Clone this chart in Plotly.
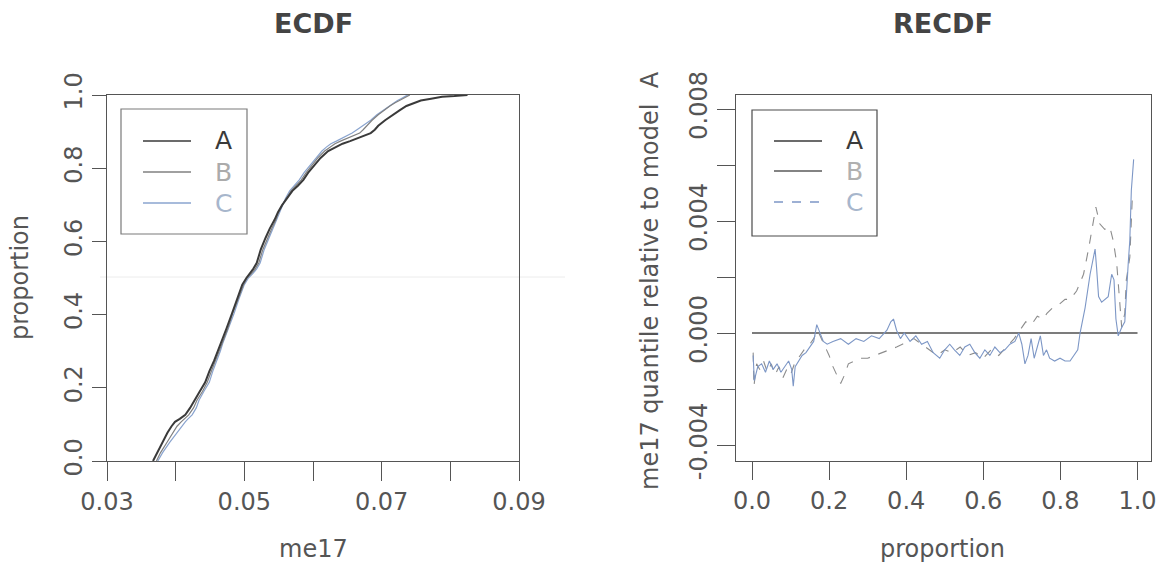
import plotly.graph_objects as go

W, H = 1165, 567

# ---- ECDF of me17 for three models (shared proportion levels) ----
ecdf_prop = [0.000, 0.023, 0.050, 0.077, 0.095, 0.107, 0.115, 0.126, 0.145, 0.166,
             0.190, 0.215, 0.245, 0.274, 0.300, 0.324, 0.362, 0.403, 0.442, 0.482,
             0.500, 0.511, 0.525, 0.541, 0.578, 0.610, 0.635, 0.659, 0.680, 0.699,
             0.718, 0.738, 0.752, 0.768, 0.788, 0.807, 0.828, 0.847, 0.857, 0.867,
             0.874, 0.882, 0.889, 0.896, 0.905, 0.916, 0.931, 0.946, 0.958, 0.970,
             0.978, 0.985, 0.990, 0.995, 0.997, 1.000]
me17_A = [0.0367, 0.0373, 0.0381, 0.0388, 0.0394, 0.0399, 0.0406, 0.0414, 0.0421, 0.0427,
          0.0435, 0.0443, 0.0449, 0.0456, 0.0461, 0.0466, 0.0474, 0.0482, 0.0489, 0.0497,
          0.0503, 0.0508, 0.0513, 0.0518, 0.0524, 0.0531, 0.0537, 0.0544, 0.0549, 0.0555,
          0.0562, 0.0570, 0.0578, 0.0586, 0.0593, 0.0601, 0.0611, 0.0622, 0.0632, 0.0643,
          0.0654, 0.0664, 0.0674, 0.0684, 0.0690, 0.0695, 0.0705, 0.0716, 0.0726, 0.0736,
          0.0747, 0.0757, 0.0772, 0.0788, 0.0806, 0.0825]
me17_B = [0.0372, 0.0378, 0.0387, 0.0396, 0.0402, 0.0408, 0.0413, 0.0419, 0.0426, 0.0431,
          0.0439, 0.0446, 0.0452, 0.0458, 0.0463, 0.0468, 0.0476, 0.0483, 0.0491, 0.0499,
          0.0504, 0.0510, 0.0516, 0.0521, 0.0527, 0.0534, 0.0540, 0.0546, 0.0550, 0.0555,
          0.0561, 0.0568, 0.0575, 0.0583, 0.0590, 0.0598, 0.0607, 0.0617, 0.0624, 0.0632,
          0.0640, 0.0650, 0.0659, 0.0668, 0.0673, 0.0678, 0.0686, 0.0695, 0.0703, 0.0712,
          0.0719, 0.0726, 0.0731, 0.0735, 0.0738, 0.0741]
me17_C = [0.0374, 0.0381, 0.0391, 0.0402, 0.0408, 0.0414, 0.0418, 0.0424, 0.0430, 0.0434,
          0.0441, 0.0449, 0.0454, 0.0460, 0.0465, 0.0469, 0.0477, 0.0485, 0.0492, 0.0500,
          0.0506, 0.0512, 0.0518, 0.0523, 0.0529, 0.0536, 0.0541, 0.0547, 0.0551, 0.0555,
          0.0560, 0.0566, 0.0572, 0.0580, 0.0587, 0.0595, 0.0604, 0.0613, 0.0619, 0.0626,
          0.0634, 0.0643, 0.0650, 0.0657, 0.0664, 0.0673, 0.0684, 0.0693, 0.0702, 0.0710,
          0.0717, 0.0723, 0.0728, 0.0732, 0.0735, 0.0738]

# ---- RECDF: quantile difference relative to model A ----
rec_A_p = [0.0, 1.0]
rec_A_d = [0.0, 0.0]
rec_B_p = [0.003, 0.005, 0.012, 0.020, 0.030, 0.040, 0.050, 0.060, 0.070, 0.080,
           0.090, 0.100, 0.110, 0.120, 0.130, 0.140, 0.150, 0.160, 0.170, 0.180,
           0.190, 0.200, 0.210, 0.220, 0.230, 0.240, 0.250, 0.265, 0.280, 0.300,
           0.320, 0.340, 0.360, 0.375, 0.390, 0.405, 0.420, 0.440, 0.460, 0.480,
           0.500, 0.520, 0.540, 0.560, 0.580, 0.600, 0.620, 0.640, 0.660, 0.680,
           0.695, 0.710, 0.725, 0.740, 0.755, 0.765, 0.780, 0.795, 0.812, 0.825,
           0.842, 0.860, 0.873, 0.886, 0.892, 0.902, 0.915, 0.928, 0.937, 0.946,
           0.953, 0.959, 0.967, 0.971, 0.980, 0.984, 0.987]
rec_B_d = [-0.0007, -0.0019, -0.0011, -0.0013, -0.0010, -0.0014, -0.0011, -0.0015, -0.0012, -0.0016,
           -0.0013, -0.0015, -0.0011, -0.0009, -0.0007, -0.0005, -0.0004, -0.0002, 0.0001, -0.0002,
           -0.0005, -0.0008, -0.0012, -0.0015, -0.0018, -0.0015, -0.0011, -0.0010, -0.0009, -0.0009,
           -0.0008, -0.0007, -0.0006, -0.0005, -0.0004, -0.0003, -0.0002, -0.0004, -0.0006, -0.0008,
           -0.0006, -0.0007, -0.0005, -0.0008, -0.0007, -0.0009, -0.0006, -0.0008, -0.0005, -0.0002,
           0.0001, 0.0004, 0.0003, 0.0006, 0.0005, 0.0007, 0.0009, 0.0010, 0.0012, 0.0012,
           0.0015, 0.0021, 0.0030, 0.0040, 0.0045, 0.0039, 0.0037, 0.0038, 0.0033, 0.0025,
           0.0013, 0.0002, 0.0007, 0.0019, 0.0027, 0.0045, 0.0050]
rec_C_p = [0.003, 0.006, 0.015, 0.025, 0.035, 0.045, 0.055, 0.065, 0.075, 0.085,
           0.095, 0.103, 0.107, 0.112, 0.120, 0.130, 0.140, 0.150, 0.160, 0.168,
           0.176, 0.185, 0.195, 0.210, 0.230, 0.250, 0.270, 0.290, 0.310, 0.330,
           0.350, 0.360, 0.367, 0.375, 0.385, 0.395, 0.410, 0.425, 0.440, 0.455,
           0.470, 0.487, 0.500, 0.513, 0.525, 0.539, 0.552, 0.565, 0.578, 0.591,
           0.604, 0.617, 0.630, 0.643, 0.656, 0.669, 0.682, 0.692, 0.700, 0.708,
           0.716, 0.724, 0.732, 0.740, 0.748, 0.756, 0.764, 0.772, 0.785, 0.799,
           0.812, 0.825, 0.835, 0.845, 0.851, 0.864, 0.877, 0.886, 0.890, 0.894,
           0.899, 0.907, 0.915, 0.924, 0.933, 0.939, 0.944, 0.950, 0.959, 0.967,
           0.976, 0.980, 0.984, 0.989, 0.990]
rec_C_d = [-0.0008, -0.0017, -0.0012, -0.0011, -0.0014, -0.0010, -0.0013, -0.0011, -0.0014, -0.0012,
           -0.0010, -0.0013, -0.0019, -0.0012, -0.0010, -0.0008, -0.0007, -0.0005, -0.0003, 0.0003,
           0.0000, -0.0003, -0.0004, -0.0003, -0.0002, -0.0004, -0.0002, -0.0003, -0.0001, -0.0002,
           0.0001, 0.0004, 0.0005, 0.0001, -0.0002, 0.0000, -0.0003, -0.0001, -0.0004, -0.0003,
           -0.0007, -0.0009, -0.0006, -0.0004, -0.0006, -0.0008, -0.0005, -0.0004, -0.0007, -0.0009,
           -0.0006, -0.0008, -0.0005, -0.0007, -0.0006, -0.0004, -0.0003, 0.0000, -0.0004, -0.0011,
           -0.0008, -0.0002, -0.0009, -0.0005, -0.0001, -0.0008, -0.0006, -0.0009, -0.0010, -0.0009,
           -0.0010, -0.0010, -0.0008, -0.0006, 0.0000, 0.0009, 0.0021, 0.0028, 0.0030, 0.0023,
           0.0013, 0.0011, 0.0012, 0.0013, 0.0021, 0.0019, 0.0005, -0.0001, 0.0002, 0.0004,
           0.0025, 0.0033, 0.0051, 0.0058, 0.0062]

# ---- tick labels ----
ecdf_xticks = [0.03, 0.04, 0.05, 0.06, 0.07, 0.08, 0.09]
ecdf_xlabels = ["0.03", "", "0.05", "", "0.07", "", "0.09"]
ecdf_yticks = [0.0, 0.2, 0.4, 0.6, 0.8, 1.0]
ecdf_ylabels = ["0.0", "0.2", "0.4", "0.6", "0.8", "1.0"]
rec_xticks = [0.0, 0.2, 0.4, 0.6, 0.8, 1.0]
rec_xlabels = ["0.0", "0.2", "0.4", "0.6", "0.8", "1.0"]
rec_yticks = [-0.004, -0.002, 0.0, 0.002, 0.004, 0.006, 0.008]
rec_ylabels = ["-0.004", "", "0.000", "", "0.004", "", "0.008"]

FONT = "DejaVu Sans"
AX = "#555555"
COL_A, COL_B, COL_C = "#3a3a3a", "#808080", "#8aa4cf"
COL_B2, COL_C2 = "#8c8c8c", "#7d97c6"


def px(x):
    return x / W


def py(y):
    return 1 - y / H


fig = go.Figure()

# left panel: ECDF
fig.add_trace(go.Scatter(x=me17_C, y=ecdf_prop, mode="lines", name="C",
                         line=dict(color=COL_C, width=1.2), xaxis="x", yaxis="y"))
fig.add_trace(go.Scatter(x=me17_B, y=ecdf_prop, mode="lines", name="B",
                         line=dict(color=COL_B, width=1.2), xaxis="x", yaxis="y"))
fig.add_trace(go.Scatter(x=me17_A, y=ecdf_prop, mode="lines", name="A",
                         line=dict(color=COL_A, width=2), xaxis="x", yaxis="y"))

# right panel: RECDF
fig.add_trace(go.Scatter(x=rec_A_p, y=rec_A_d, mode="lines", name="A",
                         line=dict(color="#505050", width=1.5), xaxis="x2", yaxis="y2"))
fig.add_trace(go.Scatter(x=rec_B_p, y=rec_B_d, mode="lines", name="B",
                         line=dict(color=COL_B2, width=1.1, dash="dash"), xaxis="x2", yaxis="y2"))
fig.add_trace(go.Scatter(x=rec_C_p, y=rec_C_d, mode="lines", name="C",
                         line=dict(color=COL_C2, width=1.1), xaxis="x2", yaxis="y2"))

tickfont = dict(family=FONT, size=24, color="#555555")
common = dict(showline=True, mirror=True, linecolor=AX, linewidth=1, ticks="outside",
              tickcolor=AX, tickwidth=1, showgrid=False, zeroline=False, tickfont=tickfont,
              fixedrange=True, automargin=False)
ydom = [py(461), py(95)]

fig.update_layout(
    width=W, height=H, margin=dict(l=0, r=0, t=0, b=0, autoexpand=False),
    paper_bgcolor="white", plot_bgcolor="white", showlegend=False,
    xaxis=dict(domain=[px(107), px(519)], range=[0.03, 0.09], tickmode="array",
               tickvals=ecdf_xticks, ticktext=ecdf_xlabels, ticklen=19, anchor="y", **common),
    yaxis=dict(domain=ydom, range=[0, 1], tickmode="array", tickvals=ecdf_yticks,
               ticktext=ecdf_ylabels, ticklen=14, tickangle=-90, anchor="x", **common),
    xaxis2=dict(domain=[px(736), px(1151)], range=[-0.0415, 1.035], tickmode="array",
                tickvals=rec_xticks, ticktext=rec_xlabels, ticklen=18, anchor="y2", **common),
    yaxis2=dict(domain=ydom, range=[-0.00457, 0.0085], tickmode="array", tickvals=rec_yticks,
                ticktext=rec_ylabels, ticklen=18, tickangle=-90, anchor="x2", **common),
)

shapes = []
annotations = []

# faint reference line at half proportion
shapes.append(dict(type="line", xref="paper", yref="paper", x0=px(100), x1=px(565),
                   y0=py(277), y1=py(277), line=dict(color="#ececec", width=1), layer="below"))


def add_text(text, x, y, size=24, color="#555555", bold=False, angle=0):
    annotations.append(dict(text=f"<b>{text}</b>" if bold else text, x=px(x), y=py(y),
                            xref="paper", yref="paper", showarrow=False, textangle=angle,
                            xanchor="center", yanchor="middle",
                            font=dict(family=FONT, size=size, color=color)))


add_text("ECDF", 313, 23, size=27, color="#444444", bold=True)
add_text("RECDF", 943, 23, size=27, color="#444444", bold=True)
add_text("me17", 313, 549, size=24)
add_text("proportion", 943, 549, size=24)
add_text("proportion", 20, 278, size=24, angle=-90)
add_text("me17 quantile relative to model  A", 650, 280, size=24, angle=-90)


def add_legend(x0, y0, x1, y1, border, entries):
    shapes.append(dict(type="rect", xref="paper", yref="paper", x0=px(x0), x1=px(x1),
                       y0=py(y0), y1=py(y1), line=dict(color=border, width=1.2),
                       fillcolor="white"))
    for label, lcol, dash, tcol, yy in entries:
        shapes.append(dict(type="line", xref="paper", yref="paper",
                           x0=px(x0 + 22), x1=px(x0 + 70), y0=py(yy), y1=py(yy),
                           line=dict(color=lcol, width=1.4, dash=dash)))
        add_text(label, x0 + 102, yy, size=25, color=tcol)


add_legend(121, 109, 247, 234, "#7a7a7a", [
    ("A", COL_A, "solid", "#3a3a3a", 141),
    ("B", COL_B, "solid", "#ababab", 172),
    ("C", COL_C, "solid", "#a7b6cc", 203),
])
add_legend(752, 110, 877, 236, "#4a4a4a", [
    ("A", "#3a3a3a", "solid", "#3a3a3a", 141),
    ("B", "#5a5a5a", "solid", "#b0b0b0", 171),
    ("C", COL_C2, "dash", "#a7b6cc", 202),
])

fig.update_layout(shapes=shapes, annotations=annotations)
fig.write_html("out.html")
